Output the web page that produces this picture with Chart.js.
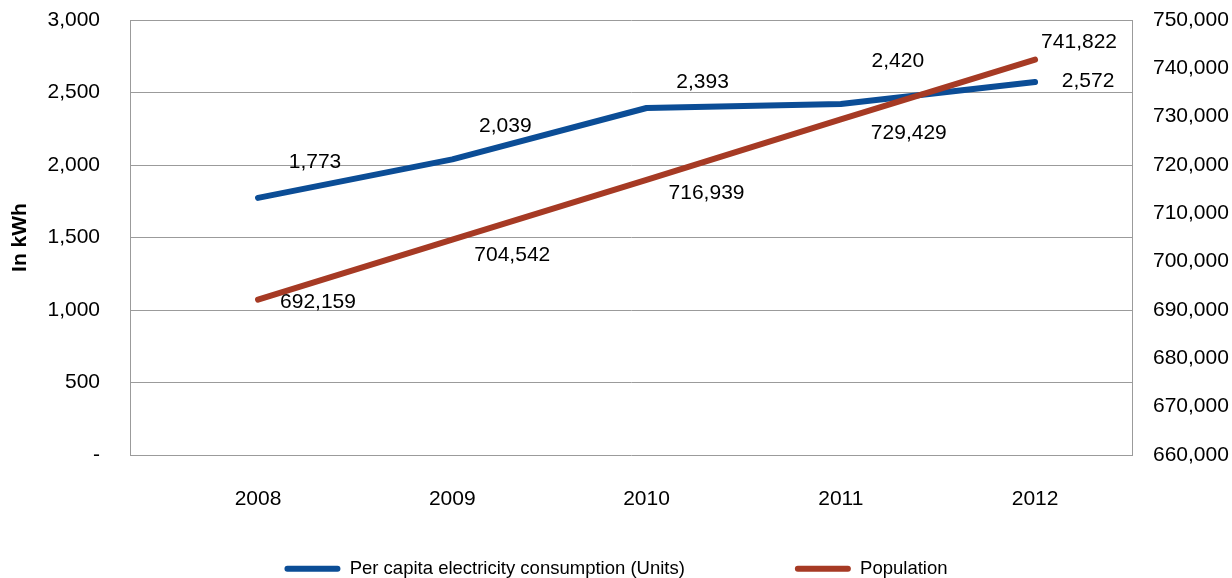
<!DOCTYPE html>
<html>
<head>
<meta charset="utf-8">
<script src="https://cdn.jsdelivr.net/npm/chart.js@4/dist/chart.umd.min.js"></script>
<style>
  html, body { margin: 0; padding: 0; background: #fff; }
  #wrap { width: 1232px; height: 578px; position: relative; }
</style>
</head>
<body>
<div id="wrap"><canvas id="c"></canvas></div>
<script>
// ---- data ----
const years = [2008, 2009, 2010, 2011, 2012];
const perCapita = [1773, 2039, 2393, 2420, 2572];
const population = [692159, 704542, 716939, 729429, 741822];
const leftTickValues = [0, 500, 1000, 1500, 2000, 2500, 3000];
const rightTickValues = [660000, 670000, 680000, 690000, 700000, 710000, 720000, 730000, 740000, 750000];
const seriesNames = ['Per capita electricity consumption (Units)', 'Population'];
const axisTitle = 'In kWh';

// label placement (pixel offsets from each point), kept separate from data
const perCapitaLabelOffsets = [[57, -36], [53, -33], [56, -26], [57, -43], [53, -1]];
const populationLabelOffsets = [[60, 3], [60, 15], [60, 13], [68, 14], [44, -17]];

const fmt = v => v.toLocaleString('en-US');
const FONT = '"Liberation Sans", Arial, Helvetica, sans-serif';
const BLUE = '#0b4d96';
const RED = '#a63a24';
const GRID = '#9b9b9b';
const LEGEND_FONT_SIZE = 18.5;
const LEGEND_GAP = 110;

const dataLabels = {
  id: 'dataLabels',
  afterDatasetsDraw(chart) {
    const ctx = chart.ctx;
    ctx.save();
    ctx.font = '21px ' + FONT;
    ctx.fillStyle = '#000';
    ctx.textAlign = 'center';
    ctx.textBaseline = 'middle';
    chart.data.datasets.forEach((ds, di) => {
      const meta = chart.getDatasetMeta(di);
      const offs = ds.labelOffsets;
      meta.data.forEach((pt, i) => {
        const o = offs[i];
        ctx.fillText(fmt(ds.data[i].y), pt.x + o[0], pt.y + o[1]);
      });
    });
    ctx.restore();
  }
};

const legendShift = {
  id: 'legendShift',
  afterLayout(chart) {
    const lg = chart.legend;
    if (!lg) return;
    lg.top = chart.height - LEGEND_FONT_SIZE - LEGEND_GAP;
    lg.bottom = chart.height;
    lg.height = lg.bottom - lg.top;
    if (lg.adjustHitBoxes) lg.adjustHitBoxes();
  }
};

new Chart(document.getElementById('c'), {
  type: 'line',
  data: {
    datasets: [
      {
        label: seriesNames[0],
        data: years.map((y, i) => ({ x: y, y: perCapita[i] })),
        yAxisID: 'y',
        borderColor: BLUE,
        backgroundColor: BLUE,
        borderWidth: 6,
        borderCapStyle: 'round',
        borderJoinStyle: 'round',
        pointRadius: 0,
        tension: 0,
        order: 1,
        labelOffsets: perCapitaLabelOffsets
      },
      {
        label: seriesNames[1],
        data: years.map((y, i) => ({ x: y, y: population[i] })),
        yAxisID: 'y1',
        borderColor: RED,
        backgroundColor: RED,
        borderWidth: 6,
        borderCapStyle: 'round',
        borderJoinStyle: 'round',
        pointRadius: 0,
        tension: 0,
        order: 0,
        labelOffsets: populationLabelOffsets
      }
    ]
  },
  options: {
    responsive: true,
    maintainAspectRatio: false,
    animation: false,
    layout: { padding: { top: 20, left: 0, right: 0, bottom: 0 } },
    plugins: {
      tooltip: { enabled: false },
      legend: {
        position: 'bottom',
        maxHeight: 30,
        labels: {
          font: { family: FONT, size: LEGEND_FONT_SIZE },
          color: '#000',
          boxWidth: 56,
          boxHeight: 6,
          useBorderRadius: true,
          borderRadius: 3,
          padding: LEGEND_GAP,
          sort: (a, b) => a.datasetIndex - b.datasetIndex,
          generateLabels(chart) {
            const items = Chart.defaults.plugins.legend.labels.generateLabels(chart);
            items.forEach(it => { it.lineWidth = 0; it.strokeStyle = it.fillStyle; });
            return items;
          }
        }
      }
    },
    scales: {
      x: {
        type: 'linear',
        min: 2007.341,
        max: 2012.499,
        afterBuildTicks(scale) { scale.ticks = years.map(v => ({ value: v })); },
        afterFit(scale) { scale.height = 93; },
        grid: { display: false, drawTicks: false },
        border: { display: false },
        ticks: {
          padding: 32,
          autoSkip: false,
          maxRotation: 0,
          font: { family: FONT, size: 21 },
          color: '#000',
          callback: v => String(v)
        }
      },
      y: {
        position: 'left',
        min: 0,
        max: 3000,
        afterBuildTicks(scale) { scale.ticks = leftTickValues.map(v => ({ value: v })); },
        afterFit(scale) { scale.width = 130; },
        grid: { color: GRID, lineWidth: 1, drawTicks: true, tickLength: 30, tickColor: 'rgba(0,0,0,0)' },
        border: { display: true, color: GRID, width: 1 },
        ticks: {
          padding: 0,
          font: { family: FONT, size: 21 },
          color: '#000',
          callback: v => (v === 0 ? '-' : fmt(v))
        },
        title: {
          display: true,
          text: axisTitle,
          font: { family: FONT, size: 21, weight: 'bold' },
          color: '#000',
          padding: { top: 8, bottom: 0 }
        }
      },
      y1: {
        position: 'right',
        min: 660000,
        max: 750000,
        afterBuildTicks(scale) { scale.ticks = rightTickValues.map(v => ({ value: v })); },
        afterFit(scale) { scale.width = 100; },
        grid: { display: false, drawTicks: true, tickLength: 21, tickColor: 'rgba(0,0,0,0)' },
        border: { display: true, color: GRID, width: 1 },
        ticks: {
          padding: 0,
          font: { family: FONT, size: 21 },
          color: '#000',
          callback: v => fmt(v)
        }
      }
    }
  },
  plugins: [dataLabels, legendShift]
});
</script>
</body>
</html>
